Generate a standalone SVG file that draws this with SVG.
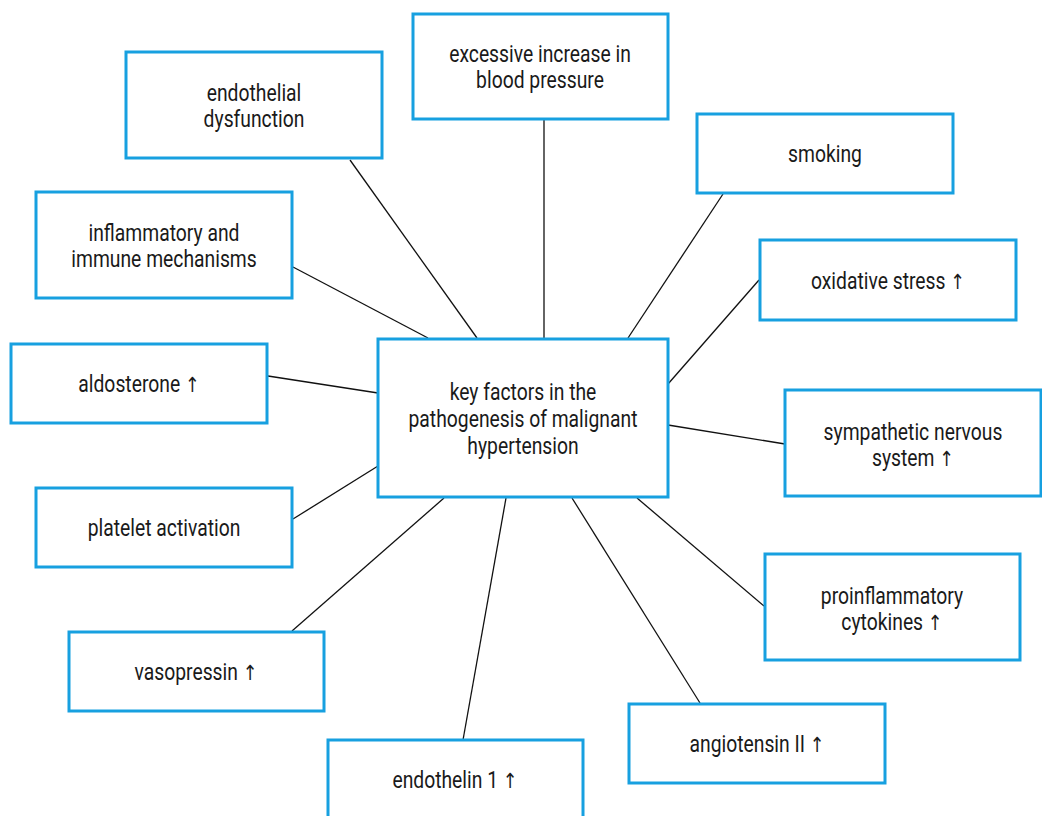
<svg xmlns="http://www.w3.org/2000/svg" width="1042" height="816" viewBox="0 0 1042 816">
<style>
.box{fill:#fff;stroke:#17a0e0;stroke-width:3}
.t{font-family:"Roboto","Liberation Sans",sans-serif;font-size:23px;fill:#1a1a1a;text-anchor:middle}
.a{font-family:"DejaVu Sans",sans-serif;font-size:21px;fill:#1a1a1a}
.c{stroke:#111;stroke-width:1.3;fill:none}
</style>
<rect width="1042" height="816" fill="#fff"/>
<g id="connectors">
<line class="c" x1="350" y1="160" x2="477" y2="338"/>
<line class="c" x1="544" y1="120" x2="544" y2="338"/>
<line class="c" x1="723" y1="194" x2="628" y2="338"/>
<line class="c" x1="293" y1="267" x2="428" y2="338"/>
<line class="c" x1="759" y1="280" x2="668" y2="384"/>
<line class="c" x1="268" y1="376" x2="378" y2="393"/>
<line class="c" x1="668" y1="425" x2="785" y2="444"/>
<line class="c" x1="293" y1="519" x2="378" y2="466"/>
<line class="c" x1="637" y1="498" x2="764" y2="606"/>
<line class="c" x1="292" y1="631" x2="444" y2="498"/>
<line class="c" x1="572" y1="498" x2="700" y2="703"/>
<line class="c" x1="506" y1="498" x2="463" y2="740"/>
</g>
<g id="center"><rect class="box" x="378" y="339" width="290" height="158"/>
<g transform="translate(523,0) scale(0.84,1)"><text class="t" x="0" y="400">key factors in the</text><text class="t" x="0" y="427">pathogenesis of malignant</text><text class="t" x="0" y="454">hypertension</text></g></g>
<g id="excessive"><rect class="box" x="413" y="14" width="255" height="105"/>
<g transform="translate(540,0) scale(0.84,1)"><text class="t" x="0" y="62">excessive increase in</text><text class="t" x="0" y="88">blood pressure</text></g></g>
<g id="endothelial"><rect class="box" x="126" y="52" width="256" height="106"/>
<g transform="translate(254,0) scale(0.84,1)"><text class="t" x="0" y="101">endothelial</text><text class="t" x="0" y="127">dysfunction</text></g></g>
<g id="smoking"><rect class="box" x="697" y="114" width="256" height="79"/>
<g transform="translate(825,0) scale(0.84,1)"><text class="t" x="0" y="162">smoking</text></g></g>
<g id="inflammatory"><rect class="box" x="36" y="192" width="256" height="106"/>
<g transform="translate(164,0) scale(0.84,1)"><text class="t" x="0" y="241">inflammatory and</text><text class="t" x="0" y="267">immune mechanisms</text></g></g>
<g id="oxidative"><rect class="box" x="760" y="240" width="256" height="80"/>
<g transform="translate(888,0) scale(0.84,1)"><text class="t" x="0" y="289">oxidative stress <tspan class="a">↑</tspan></text></g></g>
<g id="aldosterone"><rect class="box" x="11" y="344" width="256" height="79"/>
<g transform="translate(139,0) scale(0.84,1)"><text class="t" x="0" y="392">aldosterone <tspan class="a">↑</tspan></text></g></g>
<g id="sympathetic"><rect class="box" x="785" y="390" width="256" height="106"/>
<g transform="translate(913,0) scale(0.84,1)"><text class="t" x="0" y="440">sympathetic nervous</text><text class="t" x="0" y="466">system <tspan class="a">↑</tspan></text></g></g>
<g id="platelet"><rect class="box" x="36" y="488" width="256" height="79"/>
<g transform="translate(164,0) scale(0.84,1)"><text class="t" x="0" y="536">platelet activation</text></g></g>
<g id="proinflammatory"><rect class="box" x="765" y="554" width="255" height="106"/>
<g transform="translate(892,0) scale(0.84,1)"><text class="t" x="0" y="604">proinflammatory</text><text class="t" x="0" y="630">cytokines <tspan class="a">↑</tspan></text></g></g>
<g id="vasopressin"><rect class="box" x="69" y="632" width="255" height="79"/>
<g transform="translate(196,0) scale(0.84,1)"><text class="t" x="0" y="680">vasopressin <tspan class="a">↑</tspan></text></g></g>
<g id="angiotensin"><rect class="box" x="629" y="704" width="256" height="79"/>
<g transform="translate(757,0) scale(0.84,1)"><text class="t" x="0" y="752">angiotensin II <tspan class="a">↑</tspan></text></g></g>
<g id="endothelin"><rect class="box" x="328" y="740" width="255" height="90"/>
<g transform="translate(455,0) scale(0.84,1)"><text class="t" x="0" y="788">endothelin 1 <tspan class="a">↑</tspan></text></g></g>
</svg>
